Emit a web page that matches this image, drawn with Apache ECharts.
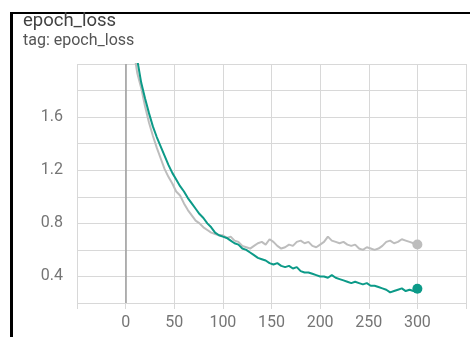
<!DOCTYPE html>
<html>
<head>
<meta charset="utf-8">
<script src="https://cdn.jsdelivr.net/npm/echarts@6/dist/echarts.min.js"></script>
<style>html,body{margin:0;padding:0;background:#fff;}#c{width:470px;height:337px;}</style>
</head>
<body>
<div id="c"></div>
<script>
var title = 'epoch_loss';
var subtitle = 'tag: epoch_loss';
var epochs = [8,12,16,20,24,28,32,36,40,44,48,52,56,60,64,68,72,76,80,84,88,92,96,100,104,108,112,116,120,124,128,132,136,140,144,148,152,156,160,164,168,172,176,180,184,188,192,196,200,204,208,212,216,220,224,228,232,236,240,244,248,252,256,260,264,268,272,276,280,284,288,292,296,300];
var tealLoss = [2.35,2.03,1.86,1.74,1.63,1.53,1.45,1.38,1.31,1.24,1.18,1.13,1.08,1.04,0.99,0.95,0.91,0.87,0.84,0.80,0.77,0.73,0.71,0.70,0.69,0.67,0.65,0.64,0.61,0.60,0.58,0.56,0.54,0.53,0.52,0.50,0.49,0.50,0.48,0.47,0.48,0.46,0.47,0.44,0.43,0.43,0.42,0.41,0.40,0.40,0.39,0.41,0.39,0.38,0.37,0.36,0.35,0.36,0.35,0.34,0.35,0.33,0.33,0.32,0.31,0.30,0.28,0.29,0.30,0.31,0.29,0.30,0.29,0.307];
var grayLoss = [2.12,1.93,1.82,1.68,1.56,1.46,1.37,1.29,1.21,1.15,1.10,1.04,1.01,0.95,0.90,0.86,0.82,0.80,0.77,0.75,0.73,0.72,0.71,0.71,0.69,0.70,0.67,0.66,0.63,0.62,0.61,0.63,0.65,0.66,0.64,0.68,0.66,0.63,0.61,0.62,0.64,0.63,0.66,0.67,0.65,0.66,0.63,0.62,0.64,0.66,0.70,0.67,0.66,0.65,0.66,0.64,0.63,0.64,0.61,0.60,0.62,0.61,0.60,0.61,0.63,0.66,0.67,0.65,0.66,0.68,0.67,0.66,0.65,0.64];
var xTickLabels = ['0','50','100','150','200','250','300'];
var yTickLabels = ['0.4','0.8','1.2','1.6'];

function pairs(xs, ys){ return xs.map(function(x,i){ return [x, ys[i]]; }); }
var tealData = pairs(epochs, tealLoss);
var grayData = pairs(epochs, grayLoss);

var chart = echarts.init(document.getElementById('c'), null, {renderer:'canvas'});
var font = 'Roboto, "Noto Sans", sans-serif';
chart.setOption({
  animation: false,
  backgroundColor: '#fff',
  grid: {left: 77, right: 4, top: 64, bottom: 34},
  xAxis: {
    type: 'value', min: -50, max: 350, interval: 50,
    axisLine: {show: false},
    axisTick: {show: true, length: 6, lineStyle: {color: '#d8d8d8'}},
    splitLine: {show: true, lineStyle: {color: '#d8d8d8', width: 1}},
    axisLabel: {
      color: '#757575', fontSize: 16, fontFamily: font, margin: 12,
      formatter: function(v){ var s = String(v); return xTickLabels.indexOf(s) >= 0 ? s : ''; }
    }
  },
  yAxis: {
    type: 'value', min: 0.2, max: 2.0, interval: 0.2,
    axisLine: {show: false},
    axisTick: {show: true, length: 7, lineStyle: {color: '#d8d8d8'}},
    splitLine: {show: true, lineStyle: {color: '#d8d8d8', width: 1}},
    axisLabel: {
      color: '#757575', fontSize: 16, fontFamily: font, margin: 14,
      formatter: function(v){ var s = (Math.round(v*10)/10).toFixed(1); return yTickLabels.indexOf(s) >= 0 ? s : ''; }
    }
  },
  graphic: [
    {type: 'rect', shape: {x: 10, y: 12, width: 460, height: 2}, style: {fill: '#000'}},
    {type: 'rect', shape: {x: 10, y: 12, width: 3, height: 325}, style: {fill: '#000'}},
    {type: 'text', left: 23, top: 12, style: {text: title, fontSize: 18.5, fontFamily: font, fill: '#424242'}},
    {type: 'text', left: 23, top: 33, style: {text: subtitle, fontSize: 16, fontFamily: font, fill: '#555'}}
  ],
  series: [
    {
      type: 'line', data: grayData, showSymbol: false, clip: true,
      lineStyle: {color: '#bdbdbd', width: 2}, itemStyle: {color: '#bdbdbd'},
      z: 2,
      markPoint: {
        symbol: 'circle', symbolSize: 10, label: {show: false},
        itemStyle: {color: '#bdbdbd'},
        data: [{coord: grayData[grayData.length-1]}]
      },
      markLine: {
        silent: true, symbol: 'none', label: {show: false},
        lineStyle: {color: '#9e9e9e', width: 1.5, type: 'solid'},
        data: [{xAxis: 0}]
      }
    },
    {
      type: 'line', data: tealData, showSymbol: false, clip: true,
      lineStyle: {color: '#0c9a88', width: 2}, itemStyle: {color: '#0c9a88'},
      z: 3,
      markPoint: {
        symbol: 'circle', symbolSize: 10, label: {show: false},
        itemStyle: {color: '#0c9a88'},
        data: [{coord: tealData[tealData.length-1]}]
      }
    }
  ]
});
</script>
</body>
</html>
